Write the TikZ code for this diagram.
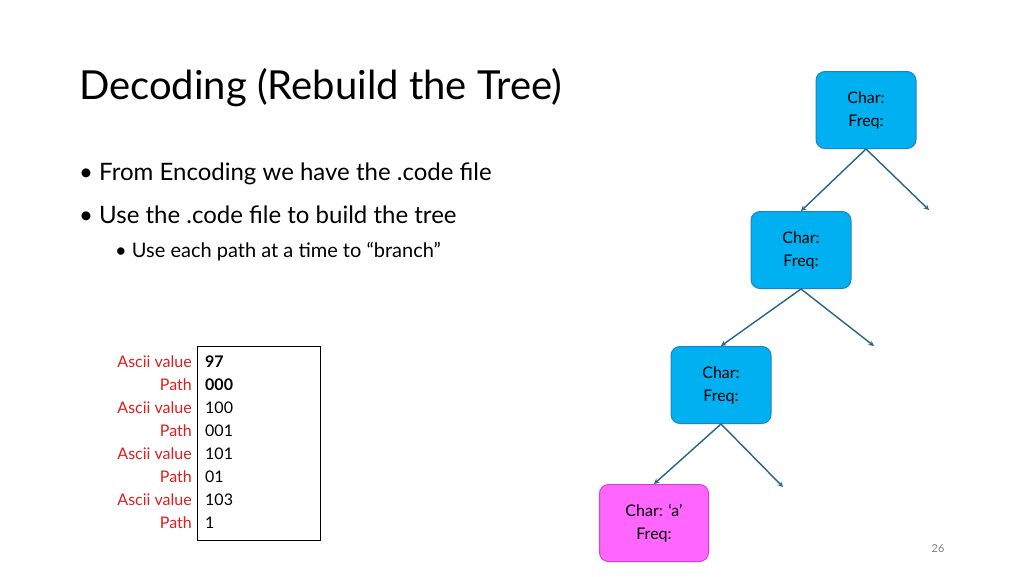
\documentclass[tikz,border=0pt]{standalone}
\usepackage{fontspec}
\setmainfont{Lato}
\usetikzlibrary{positioning}
\definecolor{nodeblue}{RGB}{0,176,240}
\definecolor{nodeline}{RGB}{30,130,200}
\definecolor{arrowc}{RGB}{38,100,135}
\definecolor{leafpink}{RGB}{255,102,255}
\definecolor{leafline}{RGB}{220,60,210}
\definecolor{labred}{RGB}{220,30,30}
\begin{document}
\begin{tikzpicture}[x=1pt,y=-1pt]
  \tikzstyle{tree node}=[draw=nodeline,fill=nodeblue,rounded corners=9,line width=1,
    minimum width=100,minimum height=77,align=center,font=\fontsize{16}{23}\selectfont]
  \tikzstyle{leaf node}=[tree node,draw=leafline,fill=leafpink,minimum width=109]
  \tikzstyle{branch}=[draw=arrowc,line width=1.4,-stealth]
  \tikzstyle{row}=[anchor=base east,text=labred,font=\fontsize{16}{16}\selectfont,inner sep=0]
  \tikzstyle{val}=[anchor=base west,font=\fontsize{16}{16}\selectfont,inner sep=0]

  \useasboundingbox (0,0) rectangle (1024,576);

  % title and bullets
  \node (title)[anchor=base west,inner sep=0,font=\fontsize{40}{40}\selectfont] at (79,99) {Decoding (Rebuild the Tree)};
  \node (b1)[anchor=base west,inner sep=0,font=\fontsize{24}{24}\selectfont] at (79,180) {\textbullet\ From Encoding we have the .code file};
  \node (b2)[anchor=base west,inner sep=0,font=\fontsize{24}{24}\selectfont] at (79,223) {\textbullet\ Use the .code file to build the tree};
  \node (b3)[anchor=base west,inner sep=0,font=\fontsize{20}{20}\selectfont] at (115,257) {\textbullet\ Use each path at a time to “branch”};

  % code file table
  \draw[line width=0.6] (197,346) rectangle (320,540);
  \foreach \y/\lab/\v [count=\i] in {367/Ascii value/\textbf{97},390/Path/\textbf{000},
      413/Ascii value/100,436/Path/001,459/Ascii value/101,482/Path/01,
      505/Ascii value/103,528/Path/1}{
    \node (lab\i)[row] at (192,\y) {\lab};
    \node (val\i)[val] at (205,\y) {\v};
  }

  % tree
  \node (n1)[tree node] at (866,110) {Char:\\Freq:};
  \node (n2)[tree node] at (801,250) {Char:\\Freq:};
  \node (n3)[tree node] at (721,385) {Char:\\Freq:};
  \node (n4)[leaf node] at (654,523) {Char: ‘a’\\Freq:};
  \coordinate (r1) at (929,210);
  \coordinate (r2) at (874,346);
  \coordinate (r3) at (783,487);
  \draw[branch] (n1.south) -- (n2.north);
  \draw[branch] (n1.south) -- (r1);
  \draw[branch] (n2.south) -- (n3.north);
  \draw[branch] (n2.south) -- (r2);
  \draw[branch] (n3.south) -- (n4.north);
  \draw[branch] (n3.south) -- (r3);

  \node (page)[text=gray,font=\fontsize{11}{11}\selectfont] at (938,549) {26};
\end{tikzpicture}
\end{document}
